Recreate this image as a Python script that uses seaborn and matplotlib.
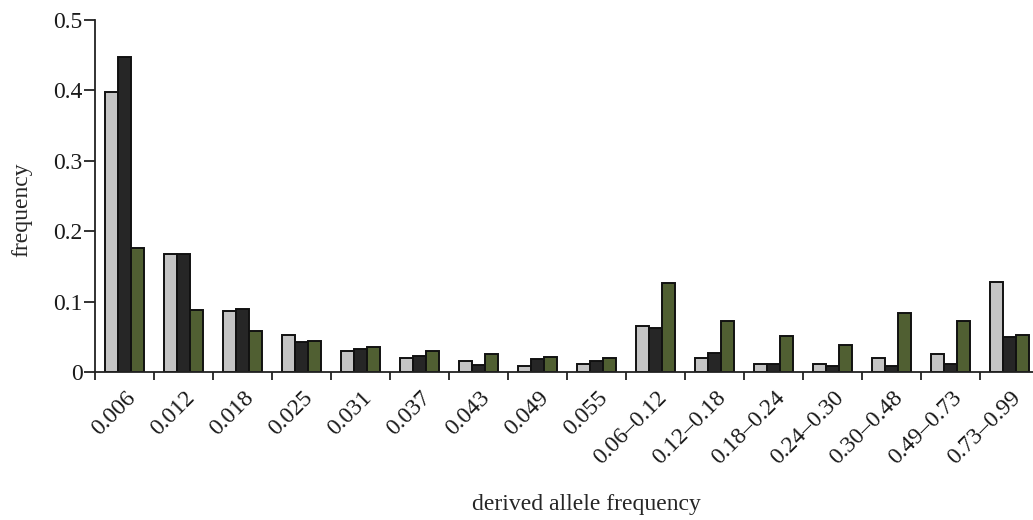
import matplotlib
matplotlib.use('Agg')
import matplotlib.pyplot as plt
import matplotlib.transforms as mtransforms
from matplotlib.ticker import FixedLocator, FuncFormatter
import numpy as np
import pandas as pd
import seaborn as sns

bins = ['0.006', '0.012', '0.018', '0.025', '0.031', '0.037', '0.043', '0.049',
        '0.055', '0.06\u20130.12', '0.12\u20130.18', '0.18\u20130.24', '0.24\u20130.30',
        '0.30\u20130.48', '0.49\u20130.73', '0.73\u20130.99']

grey_vals = [0.398, 0.167, 0.086, 0.053, 0.030, 0.020, 0.016, 0.008,
             0.011, 0.065, 0.020, 0.011, 0.011, 0.020, 0.025, 0.128]
black_vals = [0.448, 0.167, 0.090, 0.042, 0.032, 0.023, 0.010, 0.018,
              0.015, 0.062, 0.027, 0.011, 0.008, 0.008, 0.011, 0.050]
green_vals = [0.176, 0.088, 0.058, 0.044, 0.035, 0.030, 0.025, 0.022,
              0.020, 0.126, 0.072, 0.051, 0.039, 0.084, 0.072, 0.053]

series = ['A', 'B', 'C']
colors = ['#c4c4c4', '#262626', '#52672a']

df = pd.DataFrame({
    'bin': bins * 3,
    'series': np.repeat(series, len(bins)),
    'freq': grey_vals + black_vals + green_vals,
})

sns.set_style('ticks')
plt.rcParams['font.family'] = ['Liberation Serif', 'DejaVu Serif']
plt.rcParams['font.size'] = 17
plt.rcParams['text.color'] = '#1a1a1a'

fig = plt.figure(figsize=(10.33, 5.2), dpi=100)
ax = fig.add_axes([95 / 1033, 148 / 520, 944 / 1033, 352 / 520])

sns.barplot(data=df, x='bin', y='freq', hue='series', order=bins,
            hue_order=series, palette=colors, width=0.66,
            edgecolor='#111111', linewidth=1.4, legend=False, ax=ax)

ax.set_xlim(-0.5, len(bins) - 0.5)
ax.set_ylim(0, 0.5)
ax.set_yticks([0, 0.1, 0.2, 0.3, 0.4, 0.5])
ax.yaxis.set_major_formatter(FuncFormatter(lambda v, p: '0' if v == 0 else '%.1f' % v))
sns.despine(ax=ax)
for s in ['left', 'bottom']:
    ax.spines[s].set_linewidth(1.3)
    ax.spines[s].set_color('#222222')

# boundary ticks between groups, labels at group centres
ax.xaxis.set_minor_locator(FixedLocator(np.arange(-0.5, len(bins), 1.0)))
ax.tick_params(axis='x', which='minor', length=6, width=1.3, color='#222222')
ax.tick_params(axis='x', which='major', length=0, pad=11, labelsize=17, labelcolor='#1a1a1a')
ax.tick_params(axis='y', length=8, width=1.3, color='#222222', labelsize=17, pad=1,
               labelcolor='#1a1a1a')
ax.set_xticks(range(len(bins)))
ax.set_xticklabels(bins, rotation=45, ha='right', va='top', rotation_mode='anchor')
off = mtransforms.ScaledTranslation(0.01, 0, fig.dpi_scale_trans)
for lab in ax.get_xticklabels():
    lab.set_transform(lab.get_transform() + off)

ax.set_xlabel('derived allele frequency', fontsize=17)
ax.xaxis.set_label_coords((586 - 95) / 944, (372 - 494) / 352)
ax.set_ylabel('frequency', fontsize=17)
ax.yaxis.set_label_coords((32 - 95) / 944, (372 - 210) / 352)

fig.savefig('out.png', dpi=100)
